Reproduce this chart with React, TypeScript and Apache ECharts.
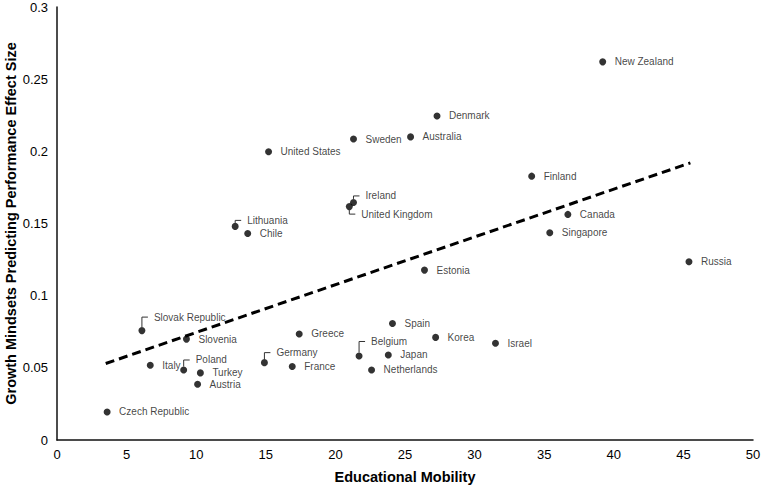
import React, { useEffect, useRef } from "react";
import * as echarts from "echarts";

const countries = [
  "New Zealand", "Denmark", "Australia", "Sweden", "United States", "Finland",
  "Ireland", "United Kingdom", "Lithuania", "Chile", "Canada", "Singapore",
  "Estonia", "Russia", "Slovak Republic", "Slovenia", "Italy", "Poland",
  "Turkey", "Austria", "Czech Republic", "Greece", "Germany", "France",
  "Spain", "Belgium", "Japan", "Netherlands", "Korea", "Israel",
];
const mobility = [
  39.2, 27.3, 25.4, 21.3, 15.2, 34.1,
  21.3, 21.0, 12.8, 13.7, 36.7, 35.4,
  26.4, 45.4, 6.1, 9.3, 6.7, 9.1,
  10.3, 10.1, 3.6, 17.4, 14.9, 16.9,
  24.1, 21.7, 23.8, 22.6, 27.2, 31.5,
];
const effectSize = [
  0.262, 0.2245, 0.210, 0.2085, 0.1997, 0.1828,
  0.1646, 0.1617, 0.1480, 0.1431, 0.1563, 0.1436,
  0.1177, 0.1235, 0.0758, 0.0699, 0.0518, 0.0485,
  0.0465, 0.0386, 0.0194, 0.0735, 0.0536, 0.0509,
  0.0807, 0.0582, 0.0589, 0.0485, 0.0711, 0.0670,
];
const trendX = [3.5, 45.5];
const trendY = [0.053, 0.192];
const xTicks = { min: 0, max: 50, interval: 5 };
const yTicks = { min: 0, max: 0.3, interval: 0.05 };

// label vertical offsets (px) for labels drawn with leader lines
const leaderOffsets: Record<string, number> = {
  "Slovak Republic": -13.5,
  "Lithuania": -6,
  "Ireland": -6.5,
  "United Kingdom": 7.5,
  "Poland": -10,
  "Germany": -10,
  "Belgium": -14.5,
};

const FONT = "'Liberation Sans', Arial, sans-serif";
const INK = "#000";

export default function App() {
  const ref = useRef<HTMLDivElement>(null);
  useEffect(() => {
    if (!ref.current) return;
    const chart = echarts.init(ref.current, null, { renderer: "svg" });
    const points = countries.map((name, i) => {
      const dy = leaderOffsets[name];
      const item: any = { name, value: [mobility[i], effectSize[i]] };
      if (dy !== undefined) item.label = { offset: [0, dy] };
      return item;
    });
    const leaderNames = countries.filter((n) => leaderOffsets[n] !== undefined);
    const leaderData = leaderNames.map((n) => {
      const i = countries.indexOf(n);
      return { name: n, value: [mobility[i], effectSize[i]] };
    });
    chart.setOption({
      animation: false,
      backgroundColor: "#fff",
      textStyle: { fontFamily: FONT },
      grid: {
        left: 57, right: 9, top: 7, bottom: 46,
        containLabel: false,
        outerBoundsMode: "none",
      },
      xAxis: {
        type: "value",
        min: xTicks.min,
        max: xTicks.max,
        interval: xTicks.interval,
        name: "Educational Mobility",
        nameLocation: "middle",
        nameGap: 29,
        nameMoveOverlap: false,
        nameTextStyle: { fontFamily: FONT, fontSize: 14.5, fontWeight: "bold", color: INK },
        axisLine: { show: true, lineStyle: { color: "#111", width: 1.5 } },
        axisTick: { show: false },
        splitLine: { show: false },
        axisLabel: { fontFamily: FONT, fontSize: 13, color: INK, margin: 8 },
      },
      yAxis: {
        type: "value",
        min: yTicks.min,
        max: yTicks.max,
        interval: yTicks.interval,
        name: "Growth Mindsets Predicting Performance Effect Size",
        nameLocation: "middle",
        nameGap: 39,
        nameMoveOverlap: false,
        nameTextStyle: { fontFamily: FONT, fontSize: 14.5, fontWeight: "bold", color: INK },
        axisLine: { show: true, lineStyle: { color: "#111", width: 1.5 } },
        axisTick: { show: false },
        splitLine: { show: false },
        axisLabel: { fontFamily: FONT, fontSize: 13, color: INK, margin: 9 },
      },
      series: [
        {
          type: "line",
          data: trendX.map((x, i) => [x, trendY[i]]),
          showSymbol: false,
          symbol: "none",
          lineStyle: { color: "#000", width: 3, type: [9, 5] },
          silent: true,
          z: 1,
        },
        {
          type: "custom",
          data: leaderData,
          silent: true,
          z: 2,
          renderItem: (params: any, api: any) => {
            const p = api.coord([api.value(0), api.value(1)]);
            const dy = leaderOffsets[leaderNames[params.dataIndex]];
            const start = dy < 0 ? p[1] - 3.5 : p[1] + 3.5;
            return {
              type: "polyline",
              shape: { points: [[p[0], start], [p[0], p[1] + dy], [p[0] + 6, p[1] + dy]] },
              style: { stroke: "#333", lineWidth: 1, fill: null },
            };
          },
        },
        {
          type: "scatter",
          data: points,
          symbol: "circle",
          symbolSize: 7,
          itemStyle: { color: "#000" },
          z: 3,
          label: {
            show: true,
            position: "right",
            distance: 8.5,
            formatter: "{b}",
            fontFamily: FONT,
            fontSize: 10,
            color: "#111",
          },
        },
      ],
    });
    return () => chart.dispose();
  }, []);
  return (
    <div
      ref={ref}
      style={{ position: "fixed", left: 0, top: 0, width: 762, height: 486 }}
    />
  );
}
